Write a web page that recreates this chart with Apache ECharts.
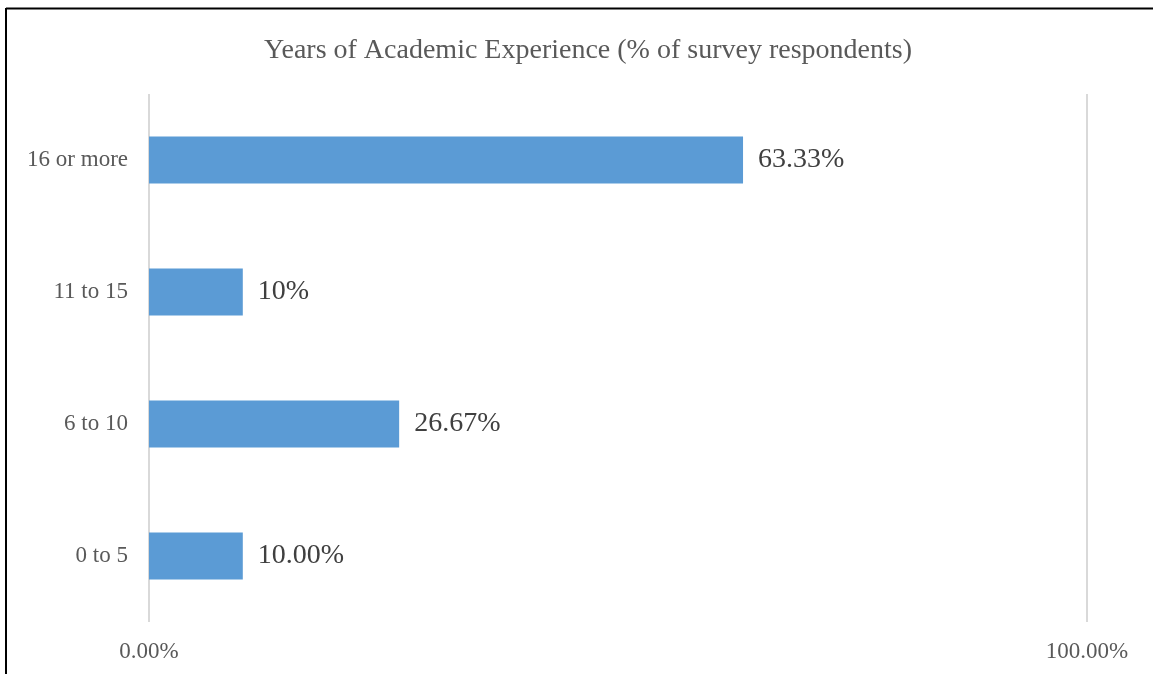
<!DOCTYPE html>
<html>
<head>
<meta charset="utf-8">
<title>Years of Academic Experience</title>
<script src="https://cdn.jsdelivr.net/npm/echarts@6/dist/echarts.min.js"></script>
<style>
  html, body { margin: 0; padding: 0; background: #ffffff; }
  #chart { width: 1153px; height: 674px; }
</style>
</head>
<body>
<div id="chart"></div>
<script>
// Experience bands, bottom to top
const categories = ['0 to 5', '6 to 10', '11 to 15', '16 or more'];
// Share of respondents (%)
const shares = [10.00, 26.67, 10, 63.33];
// Value labels as printed next to each bar
const shareLabels = ['10.00%', '26.67%', '10%', '63.33%'];
// Value axis tick labels
const axisTicks = [0, 100];
const axisTickLabels = ['0.00%', '100.00%'];

const serif = '"Liberation Serif", "Times New Roman", serif';

const chart = echarts.init(document.getElementById('chart'), null, { renderer: 'canvas' });

chart.setOption({
  backgroundColor: '#ffffff',
  animation: false,
  title: {
    text: 'Years of Academic Experience (% of survey respondents)',
    left: 583,
    top: 32,
    textAlign: 'center',
    textStyle: {
      fontFamily: serif,
      fontSize: 28,
      fontWeight: 'normal',
      color: '#595959'
    }
  },
  grid: {
    left: 149,
    right: 66,
    top: 94,
    bottom: 52,
    containLabel: false
  },
  xAxis: {
    type: 'value',
    min: 0,
    max: 100,
    interval: 100,
    axisLine: { show: false },
    axisTick: { show: false },
    splitLine: { show: true, lineStyle: { color: '#D9D9D9', width: 2 } },
    axisLabel: {
      margin: 18,
      fontFamily: serif,
      fontSize: 23,
      color: '#595959',
      formatter: function (v) {
        const i = axisTicks.indexOf(v);
        return i >= 0 ? axisTickLabels[i] : '';
      }
    }
  },
  yAxis: {
    type: 'category',
    data: categories,
    axisLine: { show: false },
    axisTick: { show: false },
    splitLine: { show: false },
    axisLabel: {
      margin: 21,
      fontFamily: serif,
      fontSize: 23,
      color: '#595959'
    }
  },
  series: [{
    type: 'bar',
    data: shares,
    barWidth: '35.5%',
    itemStyle: { color: '#5B9BD5' },
    label: {
      show: true,
      position: 'right',
      distance: 15,
      fontFamily: serif,
      fontSize: 28,
      color: '#404040',
      formatter: function (p) { return shareLabels[p.dataIndex]; }
    }
  }],
  graphic: [
    {
      type: 'line',
      shape: { x1: 6, y1: 8.5, x2: 1153, y2: 8.5 },
      style: { stroke: '#000000', lineWidth: 2 }
    },
    {
      type: 'line',
      shape: { x1: 6, y1: 8, x2: 6, y2: 674 },
      style: { stroke: '#000000', lineWidth: 2 }
    }
  ]
});
</script>
</body>
</html>
